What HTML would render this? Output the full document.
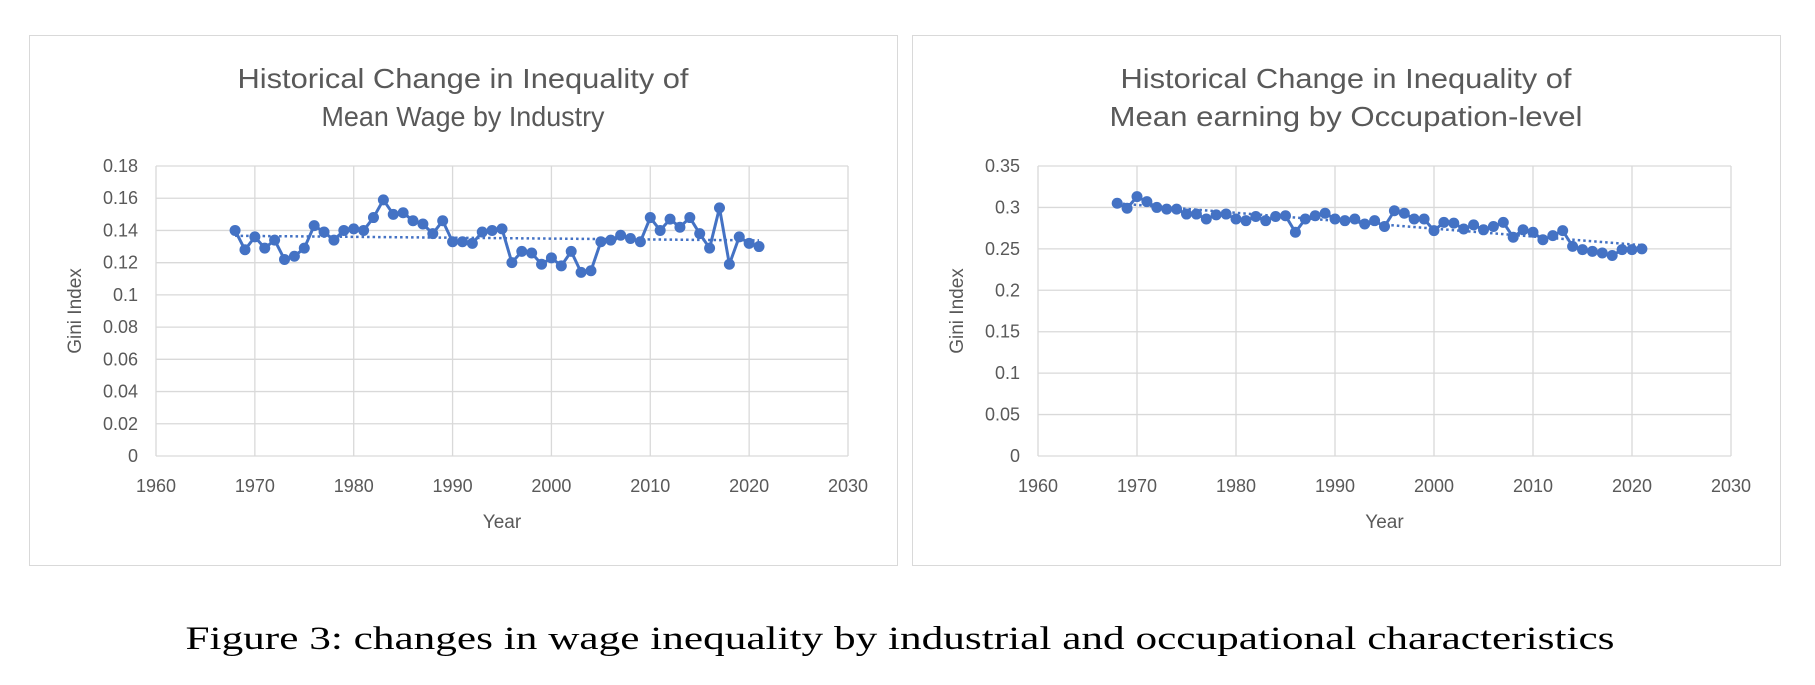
<!DOCTYPE html>
<html><head><meta charset="utf-8"><style>
html,body{margin:0;padding:0;background:#fff;}
svg{display:block;font-family:"Liberation Sans",sans-serif;}
</style></head><body>
<svg id="fig" width="1815" height="685" viewBox="0 0 1815 685">
<rect x="29.5" y="35.5" width="868" height="530" fill="#fff" stroke="#d9d9d9"/>
<rect x="912.5" y="35.5" width="868" height="530" fill="#fff" stroke="#d9d9d9"/>
<g id="left"></g>
<g id="right"></g>
<text x="900" y="649" text-anchor="middle" font-family="'Liberation Serif',serif" font-size="33" textLength="1429" lengthAdjust="spacingAndGlyphs" fill="#000">Figure 3: changes in wage inequality by industrial and occupational characteristics</text>
</svg>
<script>
const years = [];
for (let y = 1968; y <= 2021; y++) years.push(y);
const industryGini = [0.140,0.128,0.136,0.129,0.134,0.122,0.124,0.129,0.143,0.139,0.134,0.140,0.141,0.140,0.148,0.159,0.150,0.151,0.146,0.144,0.138,0.146,0.133,0.133,0.132,0.139,0.140,0.141,0.120,0.127,0.126,0.119,0.123,0.118,0.127,0.114,0.115,0.133,0.134,0.137,0.135,0.133,0.148,0.140,0.147,0.142,0.148,0.138,0.129,0.154,0.119,0.136,0.132,0.130];
const occupationGini = [0.305,0.299,0.313,0.307,0.300,0.298,0.298,0.292,0.292,0.286,0.291,0.292,0.286,0.284,0.289,0.284,0.289,0.290,0.270,0.286,0.290,0.293,0.286,0.284,0.286,0.280,0.284,0.277,0.296,0.293,0.286,0.286,0.272,0.282,0.281,0.274,0.279,0.273,0.277,0.282,0.264,0.273,0.270,0.261,0.266,0.272,0.253,0.249,0.247,0.245,0.242,0.249,0.249,0.250];
const xTicks = [1960,1970,1980,1990,2000,2010,2020,2030];
const industryYTicks = [0,0.02,0.04,0.06,0.08,0.1,0.12,0.14,0.16,0.18];
const occupationYTicks = [0,0.05,0.1,0.15,0.2,0.25,0.3,0.35];
const NS = "http://www.w3.org/2000/svg";
function mk(parent, tag, attrs, text) {
  const e = document.createElementNS(NS, tag);
  for (const k in attrs) e.setAttribute(k, attrs[k]);
  if (text !== undefined) e.textContent = text;
  parent.appendChild(e);
  return e;
}
function draw(g, cfg) {
  const {x0, x1, y0, y1, yMax, yTicks, vals, title1, title2, cx, prefix, tl1, tl2} = cfg;
  const sx = v => x0 + (v - 1960) / 70 * (x1 - x0);
  const sy = v => y1 - v / yMax * (y1 - y0);
  yTicks.forEach(t => {
    const l = mk(g, "line", {x1: x0, x2: x1, y1: sy(t), y2: sy(t), stroke: "#d9d9d9", "stroke-width": 1.3});
    
    
    const tx = mk(g, "text", {x: x0 - 18, y: sy(t) + 6, "text-anchor": "end", "font-size": 18, fill: "#595959"}, String(t));
    
    
  });
  xTicks.forEach(t => {
    const l = mk(g, "line", {x1: sx(t), x2: sx(t), y1: y0, y2: y1, stroke: "#d9d9d9", "stroke-width": 1.3});
    
    
    const tx = mk(g, "text", {x: sx(t), y: y1 + 36, "text-anchor": "middle", "font-size": 18, fill: "#595959"}, String(t));
    
    
  });
  const t1 = mk(g, "text", {x: cx, y: 88, "text-anchor": "middle", "font-size": 28, fill: "#595959", textLength: tl1, lengthAdjust: "spacingAndGlyphs"}, title1);
  
  
  const t2 = mk(g, "text", {x: cx, y: 126, "text-anchor": "middle", "font-size": 28, fill: "#595959", textLength: tl2, lengthAdjust: "spacingAndGlyphs"}, title2);
  
  
  const xt = mk(g, "text", {x: (x0 + x1) / 2, y: 528, "text-anchor": "middle", "font-size": 19, fill: "#595959"}, "Year");
  
  
  const yl = x0 - 75;
  const yt = mk(g, "text", {x: yl, y: (y0 + y1) / 2, "text-anchor": "middle", "font-size": 19, fill: "#595959", transform: `rotate(-90 ${yl} ${(y0 + y1) / 2})`}, "Gini Index");
  
  
  const n = years.length;
  const mx = years.reduce((a, b) => a + b, 0) / n, my = vals.reduce((a, b) => a + b, 0) / n;
  let num = 0, den = 0;
  for (let i = 0; i < n; i++) { num += (years[i] - mx) * (vals[i] - my); den += (years[i] - mx) ** 2; }
  const b = num / den, a = my - b * mx;
  const first = years[0], last = years[n - 1];
  const tr = mk(g, "line", {x1: sx(first), y1: sy(a + b * first), x2: sx(last), y2: sy(a + b * last), stroke: "#4472c4", "stroke-width": 2.5, "stroke-dasharray": "2.5 3"});
  
  
  const pts = years.map((y, i) => sx(y).toFixed(2) + "," + sy(vals[i]).toFixed(2)).join(" ");
  const pl = mk(g, "polyline", {points: pts, fill: "none", stroke: "#4472c4", "stroke-width": 3, "stroke-linejoin": "round"});
  
  
  years.forEach((y, i) => {
    const c = mk(g, "circle", {cx: sx(y), cy: sy(vals[i]), r: 5.5, fill: "#4472c4"});
    
    
  });
}
draw(document.getElementById("left"), {x0: 156, x1: 848, y0: 166, y1: 456, yMax: 0.18, yTicks: industryYTicks, vals: industryGini, title1: "Historical Change in Inequality of", title2: "Mean Wage by Industry", cx: 463, prefix: "industry", tl1: 451, tl2: 283});
draw(document.getElementById("right"), {x0: 1038, x1: 1731, y0: 166, y1: 456, yMax: 0.35, yTicks: occupationYTicks, vals: occupationGini, title1: "Historical Change in Inequality of", title2: "Mean earning by Occupation-level", cx: 1346, prefix: "occupation", tl1: 451, tl2: 473});
</script>
</body></html>
